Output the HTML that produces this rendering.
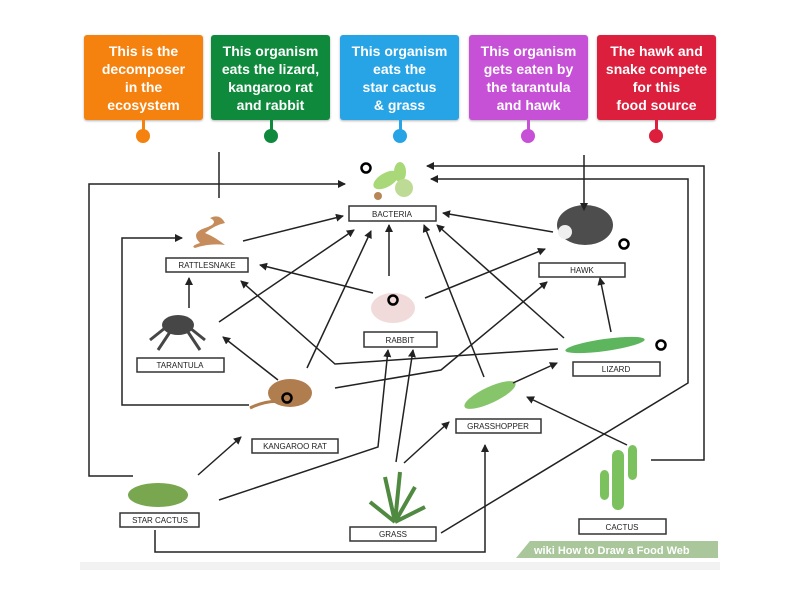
<!DOCTYPE html>
<html><head><meta charset="utf-8"><style>
body{margin:0;width:800px;height:600px;background:#fff;position:relative;overflow:hidden;font-family:"Liberation Sans",sans-serif}
.c{position:absolute;top:35px;width:119px;height:85px;border-radius:3px;color:#fff;font-weight:bold;font-size:14px;line-height:18px;text-align:center;display:flex;align-items:center;justify-content:center;box-shadow:0 1px 2px rgba(0,0,0,.3)}
.s{position:absolute;top:120px;width:3px;height:12px;margin-left:-1.5px}
.d{position:absolute;top:129px;width:14px;height:14px;border-radius:50%;margin-left:-7px}
</style></head><body>
<div class="c" style="left:84px;background:#f5820f">This is the<br>decomposer<br>in the<br>ecosystem</div>
<div class="c" style="left:211px;background:#0f8a3c">This organism<br>eats the lizard,<br>kangaroo rat<br>and rabbit</div>
<div class="c" style="left:340px;background:#27a4e6">This organism<br>eats the<br>star cactus<br>&amp; grass</div>
<div class="c" style="left:469px;background:#c650d6">This organism<br>gets eaten by<br>the tarantula<br>and hawk</div>
<div class="c" style="left:597px;background:#dc1f3c">The hawk and<br>snake compete<br>for this<br>food source</div>
<div class="s" style="left:143px;background:#f5820f"></div><div class="d" style="left:143px;background:#f5820f"></div>
<div class="s" style="left:271px;background:#0f8a3c"></div><div class="d" style="left:271px;background:#0f8a3c"></div>
<div class="s" style="left:400px;background:#27a4e6"></div><div class="d" style="left:400px;background:#27a4e6"></div>
<div class="s" style="left:528px;background:#c650d6"></div><div class="d" style="left:528px;background:#c650d6"></div>
<div class="s" style="left:656px;background:#dc1f3c"></div><div class="d" style="left:656px;background:#dc1f3c"></div>
<svg width="800" height="600" style="position:absolute;left:0;top:0" font-family="Liberation Sans, sans-serif">
<defs><marker id="a" markerWidth="8" markerHeight="8" refX="7" refY="4" orient="auto" markerUnits="userSpaceOnUse"><path d="M0,0L8,4L0,8z" fill="#222"/></marker></defs>
<rect x="80" y="152" width="640" height="416" fill="#fff"/>
<rect x="80" y="562" width="640" height="8" fill="#f2f2f2"/>
<polygon points="530,541 718,541 718,558 516,558" fill="#a9c79a"/>
<text x="534" y="554" font-size="11" font-weight="bold" fill="#fff">wiki How to Draw a Food Web</text>
<g opacity="0.9">
<ellipse cx="386" cy="180" rx="14" ry="7" fill="#9fd46a" transform="rotate(-30 386 180)"/><ellipse cx="400" cy="172" rx="6" ry="10" fill="#9fd46a"/><circle cx="404" cy="188" r="9" fill="#b8d88a"/><circle cx="378" cy="196" r="4" fill="#b07a45"/>
<path d="M195,248 q15,-5 30,-3 q-10,-8 -20,-12 q10,-8 20,-10 q-5,-10 -15,-5 q10,5 -5,10 q-15,5 -5,15 q-10,3 -5,5z" fill="#c0804a"/>
<ellipse cx="585" cy="225" rx="28" ry="20" fill="#3a3a3a"/><circle cx="565" cy="232" r="7" fill="#eee"/>
<ellipse cx="178" cy="325" rx="16" ry="10" fill="#333"/><path d="M150,340 l15,-12 M205,340 l-15,-12 M158,350 l12,-18 M200,350 l-12,-18" stroke="#333" stroke-width="3"/>
<ellipse cx="393" cy="308" rx="22" ry="15" fill="#f0d6d6"/>
<ellipse cx="605" cy="345" rx="40" ry="6" fill="#4cae4c" transform="rotate(-8 605 345)"/>
<ellipse cx="290" cy="393" rx="22" ry="14" fill="#a86f3c"/><path d="M250,408 q20,-10 40,-5" stroke="#a86f3c" stroke-width="3" fill="none"/>
<ellipse cx="490" cy="395" rx="28" ry="8" fill="#7bbf5a" transform="rotate(-25 490 395)"/>
<ellipse cx="158" cy="495" rx="30" ry="12" fill="#6a9e3c"/>
<path d="M395,522 l-25,-20 M395,522 l-10,-45 M395,522 l5,-50 M395,522 l20,-35 M395,522 l30,-15" stroke="#3d7e2c" stroke-width="4"/>
<rect x="612" y="450" width="12" height="60" rx="6" fill="#6dbb4d"/><rect x="600" y="470" width="9" height="30" rx="5" fill="#6dbb4d"/><rect x="628" y="445" width="9" height="35" rx="5" fill="#6dbb4d"/>
</g>
<path d="M219,198V152" stroke="#222" stroke-width="1.5" fill="none"/>
<g fill="none" stroke="#222" stroke-width="1.5" marker-end="url(#a)">
<path d="M584,155V210"/>
<path d="M133,476H89V184H345"/>
<path d="M249,405H122V238H182"/>
<path d="M651,460H704V166H427"/>
<path d="M441,533L688,383V179H431"/>
<path d="M243,241L343,216"/>
<path d="M219,322L354,230"/>
<path d="M307,368L371,231"/>
<path d="M389,276V225"/>
<path d="M484,377L424,225"/>
<path d="M564,338L437,225"/>
<path d="M553,232L443,213"/>
<path d="M373,293L260,265"/>
<path d="M425,298L545,249"/>
<path d="M558,349L335,364L241,281"/>
<path d="M335,388L441,370L547,282"/>
<path d="M189,308V278"/>
<path d="M611,332L600,278"/>
<path d="M278,380L223,337"/>
<path d="M513,383L557,363"/>
<path d="M198,475L241,437"/>
<path d="M219,500L378,447L388,350"/>
<path d="M396,462L413,350"/>
<path d="M404,463L449,422"/>
<path d="M627,445L527,397"/>
<path d="M155,530V552H485V445"/>
</g>
<g fill="#fff" stroke="#333" stroke-width="1.5">
<rect x="349" y="206" width="87" height="15"/><rect x="166" y="258" width="82" height="14"/><rect x="539" y="263" width="86" height="14"/>
<rect x="364" y="332" width="73" height="15"/><rect x="137" y="358" width="87" height="14"/><rect x="573" y="362" width="87" height="14"/>
<rect x="456" y="419" width="85" height="14"/><rect x="252" y="439" width="86" height="14"/><rect x="120" y="513" width="79" height="14"/>
<rect x="350" y="527" width="86" height="14"/><rect x="579" y="519" width="87" height="15"/>
</g>
<g font-size="8" fill="#222" text-anchor="middle">
<text x="392" y="217">BACTERIA</text><text x="207" y="268">RATTLESNAKE</text><text x="582" y="273">HAWK</text>
<text x="400" y="343">RABBIT</text><text x="180" y="368">TARANTULA</text><text x="616" y="372">LIZARD</text>
<text x="498" y="429">GRASSHOPPER</text><text x="295" y="449">KANGAROO RAT</text><text x="160" y="523">STAR CACTUS</text>
<text x="393" y="537">GRASS</text><text x="622" y="530">CACTUS</text>
</g>
<g fill="none" stroke="#000" stroke-width="2.5">
<circle cx="366" cy="168" r="4.5"/><circle cx="624" cy="244" r="4.5"/><circle cx="393" cy="300" r="4.5"/><circle cx="661" cy="345" r="4.5"/><circle cx="287" cy="398" r="4.5"/>
</g>
</svg>
</body></html>
